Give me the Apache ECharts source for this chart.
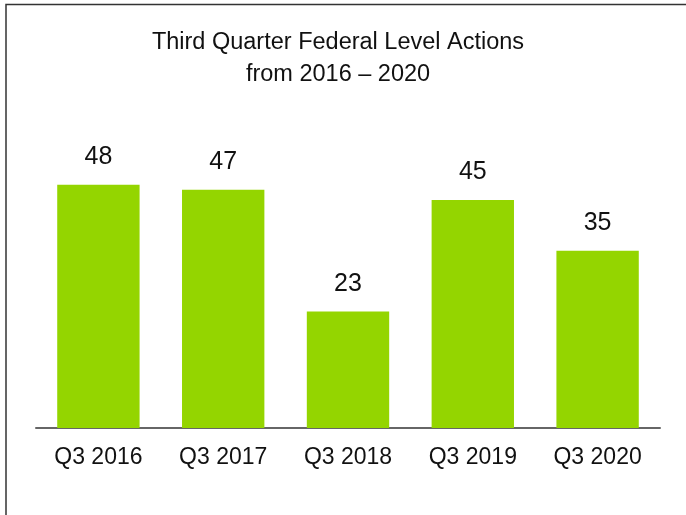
<!DOCTYPE html>
<html>
<head>
<meta charset="utf-8">
<script src="https://cdn.jsdelivr.net/npm/echarts@6/dist/echarts.min.js"></script>
<style>
  html, body { margin: 0; padding: 0; background: #fff; }
</style>
</head>
<body>
<div id="main" style="width:686px;height:515px;"></div>
<script>
const categories = ['Q3 2016', 'Q3 2017', 'Q3 2018', 'Q3 2019', 'Q3 2020'];
const actions = [48, 47, 23, 45, 35];

const green = '#94d500';
const font = 'Liberation Sans';

const chart = echarts.init(document.getElementById('main'));
chart.setOption({
  animation: false,
  title: {
    text: 'Third Quarter Federal Level Actions\nfrom 2016 – 2020',
    left: 333,
    top: 22,
    textAlign: 'center',
    textStyle: {
      color: '#111',
      fontFamily: font,
      fontSize: 23.5,
      fontWeight: 'normal',
      lineHeight: 32
    }
  },
  // frame line on the left and top
  graphic: [
    {
      type: 'polyline',
      shape: { points: [[6, 515], [6, 4.5], [686, 4.5]] },
      style: { stroke: '#333', lineWidth: 1.5, fill: null }
    }
  ],
  grid: {
    left: 36,
    right: 26,
    top: 124,
    bottom: 87
  },
  xAxis: {
    type: 'category',
    data: categories,
    axisTick: { show: false },
    axisLine: { lineStyle: { color: '#666', width: 2 } },
    axisLabel: {
      color: '#111',
      fontFamily: font,
      fontSize: 23,
      margin: 18
    }
  },
  yAxis: {
    type: 'value',
    min: 0,
    max: 60,
    show: false,
    splitLine: { show: false }
  },
  series: [
    {
      name: 'Actions',
      type: 'bar',
      data: actions,
      barWidth: '66%',
      itemStyle: { color: green },
      label: {
        show: true,
        position: 'top',
        distance: 15,
        color: '#111',
        fontFamily: font,
        fontSize: 25
      }
    }
  ]
});
</script>
</body>
</html>
